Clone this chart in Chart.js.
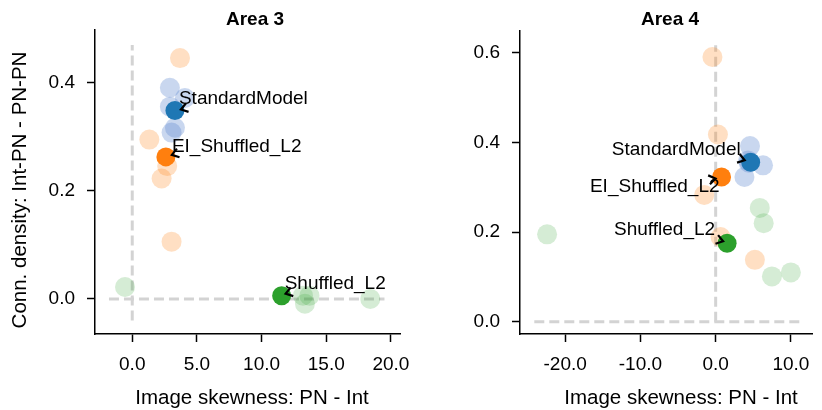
<!DOCTYPE html>
<html>
<head>
<meta charset="utf-8">
<script src="https://cdn.jsdelivr.net/npm/chart.js@4.4.1/dist/chart.umd.min.js"></script>
<style>
  body { margin: 0; background: #fff; }
  .box { position: absolute; top: 0; width: 411px; height: 410px; }
</style>
</head>
<body>
<div class="box" style="left:0"><canvas id="area3" width="411" height="410"></canvas></div>
<div class="box" style="left:411px"><canvas id="area4" width="411" height="410"></canvas></div>
<script>
// group names
var groups = ["StandardModel", "EI_Shuffled_L2", "Shuffled_L2"];

// Area 3: single runs
var std3X = [2.91, 4.07, 2.91, 3.30, 3.04];
var std3Y = [0.391, 0.372, 0.356, 0.317, 0.308];
var el3X = [3.69, 1.32, 2.70, 2.27, 3.04];
var el3Y = [0.446, 0.295, 0.246, 0.223, 0.106];
var sh3X = [-0.56, 13.2, 13.7, 13.35, 18.4];
var sh3Y = [0.022, 0.006, 0.006, -0.009, 0.0];
// Area 3: means
var mean3X = [3.30, 2.60, 11.55];
var mean3Y = [0.349, 0.263, 0.006];

// Area 4: single runs
var std4X = [4.56, 6.29, 3.82, 4.30, 4.40];
var std4Y = [0.392, 0.349, 0.323, 0.360, 0.355];
var el4X = [-0.43, 0.30, -1.52, 0.65, 5.21];
var el4Y = [0.591, 0.418, 0.283, 0.189, 0.138];
var sh4X = [5.86, 6.38, -22.4, 7.47, 9.99];
var sh4Y = [0.254, 0.220, 0.195, 0.101, 0.110];
// Area 4: means
var mean4X = [4.65, 0.78, 1.52];
var mean4Y = [0.356, 0.323, 0.175];

// reference lines (x=0 and y=0)
var vline3Y = [-0.04, 0.47];
var hline3X = [-1.8, 19.5];
var vline4Y = [0.0, 0.617];
var hline4X = [-24.1, 11.7];

// ticks
var xTicks3 = [0, 5, 10, 15, 20];
var yTicks3 = [0, 0.2, 0.4];
var xTicks4 = [-20, -10, 0, 10];
var yTicks4 = [0, 0.2, 0.4, 0.6];

var darkColors = ["#1f77b4", "#ff7f0e", "#2ca02c"];
var lightColors = ["rgba(100,140,210,0.35)", "rgba(255,127,14,0.25)", "rgba(44,160,44,0.2)"];
var FONT = "'Liberation Sans', Arial, sans-serif";

function pts(xs, ys) {
  return xs.map(function (x, i) { return {x: x, y: ys[i]}; });
}

function refLine(a, b) {
  return {
    type: "line", data: [a, b], showLine: true, pointRadius: 0,
    borderColor: "#d3d3d3", borderWidth: 3, borderDash: [10, 5], order: 10
  };
}

function buildDatasets(runs, mx, my, vY, hX) {
  var ds = [];
  ds.push(refLine({x: 0, y: vY[0]}, {x: 0, y: vY[1]}));
  ds.push(refLine({x: hX[0], y: 0}, {x: hX[1], y: 0}));
  runs.forEach(function (r, i) {
    ds.push({
      label: groups[i], data: pts(r[0], r[1]), pointRadius: 10, pointHoverRadius: 10,
      backgroundColor: lightColors[i], borderWidth: 0, order: 5
    });
  });
  for (var i = 0; i < 3; i++) {
    ds.push({
      label: groups[i] + " mean", data: [{x: mx[i], y: my[i]}], pointRadius: 9.5, pointHoverRadius: 9.5,
      backgroundColor: darkColors[i], borderWidth: 0, order: 1
    });
  }
  return ds;
}

function arrowHead(ctx, x, y, dx, dy) {
  var a = Math.atan2(dy, dx);
  var len = 8, spread = 0.6;
  ctx.beginPath();
  ctx.moveTo(x - len * Math.cos(a - spread), y - len * Math.sin(a - spread));
  ctx.lineTo(x, y);
  ctx.lineTo(x - len * Math.cos(a + spread), y - len * Math.sin(a + spread));
  ctx.stroke();
}

// annotations + titles drawn on top
var decorations = {
  id: "decorations",
  afterDatasetsDraw: function (chart, args, opts) {
    var ctx = chart.ctx, xs = chart.scales.x, ys = chart.scales.y;
    ctx.save();
    ctx.fillStyle = "#000";
    ctx.strokeStyle = "#000";
    ctx.lineWidth = 2.2;
    ctx.font = "19px " + FONT;
    ctx.textBaseline = "middle";
    opts.labels.forEach(function (l, i) {
      var px = xs.getPixelForValue(opts.mx[i]);
      var py = ys.getPixelForValue(opts.my[i]);
      ctx.textAlign = l.align;
      ctx.fillText(groups[i], px + l.dx, py + l.dy);
      arrowHead(ctx, px + l.tx, py + l.ty, l.ux, l.uy);
    });
    // title
    ctx.textAlign = "center";
    ctx.font = "bold 19px " + FONT;
    ctx.fillText(opts.title, opts.titleX, 20);
    // axis titles
    ctx.font = "20.5px " + FONT;
    ctx.fillText("Image skewness: PN - Int", opts.xTitleX, 398);
    if (opts.yTitle) {
      ctx.translate(20, 190);
      ctx.rotate(-Math.PI / 2);
      ctx.fillText(opts.yTitle, 0, 0);
    }
    ctx.restore();
  }
};

function axis(min, max, ticks, fitKey, fitVal, pad) {
  return {
    type: "linear", min: min, max: max,
    afterBuildTicks: function (s) { s.ticks = ticks.map(function (v) { return {value: v}; }); },
    afterFit: function (s) {
      s[fitKey] = fitVal;
      s.paddingLeft = 0; s.paddingRight = 0; s.paddingTop = 0; s.paddingBottom = 0;
    },
    grid: { drawOnChartArea: false, drawTicks: true, tickLength: 8, tickWidth: 1.5, tickColor: "#000" },
    border: { display: true, color: "#000", width: 1.5 },
    ticks: {
      color: "#000", padding: pad, font: { family: FONT, size: 19 },
      callback: function (v) { return v.toFixed(1); }
    }
  };
}

function makeChart(id, runs, mx, my, vY, hX, xr, yr, xt, yt, padRight, padTop, yW, deco) {
  return new Chart(document.getElementById(id), {
    type: "scatter",
    data: { datasets: buildDatasets(runs, mx, my, vY, hX) },
    options: {
      responsive: false, animation: false,
      layout: { padding: { left: 0, right: padRight, top: padTop, bottom: 0 } },
      plugins: { legend: { display: false }, tooltip: { enabled: false }, decorations: deco },
      scales: {
        x: axis(xr[0], xr[1], xt, "height", 76, 11),
        y: axis(yr[0], yr[1], yt, "width", yW, 12)
      }
    },
    plugins: [decorations]
  });
}

makeChart("area3", [[std3X, std3Y], [el3X, el3Y], [sh3X, sh3Y]], mean3X, mean3Y, vline3Y, hline3X,
  [-2.88, 20.7], [-0.065, 0.498], xTicks3, yTicks3, 11, 30, 95, {
    title: "Area 3", titleX: 255, xTitleX: 252, yTitle: "Conn. density: Int-PN - PN-PN",
    mx: mean3X, my: mean3Y,
    labels: [
      {dx: 4, dy: -12, align: "left", tx: 6, ty: -1, ux: -1, uy: 0.3},
      {dx: 6, dy: -10, align: "left", tx: 6, ty: -2, ux: -1, uy: 0.3},
      {dx: 3, dy: -12, align: "left", tx: 4, ty: -2, ux: -1, uy: 0.3}
    ]
  });

makeChart("area4", [[std4X, std4Y], [el4X, el4Y], [sh4X, sh4Y]], mean4X, mean4Y, vline4Y, hline4X,
  [-26.0, 12.8], [-0.0275, 0.649], xTicks4, yTicks4, 4, 31, 109, {
    title: "Area 4", titleX: 259, xTitleX: 270, yTitle: null,
    mx: mean4X, my: mean4Y,
    labels: [
      {dx: -10, dy: -12, align: "right", tx: -6, ty: -2, ux: 1, uy: 0.3},
      {dx: -2, dy: 10, align: "right", tx: -6, ty: 1.5, ux: 1, uy: -0.2},
      {dx: -12, dy: -14, align: "right", tx: -4, ty: -2, ux: 1, uy: 0.3}
    ]
  });
</script>
</body>
</html>
